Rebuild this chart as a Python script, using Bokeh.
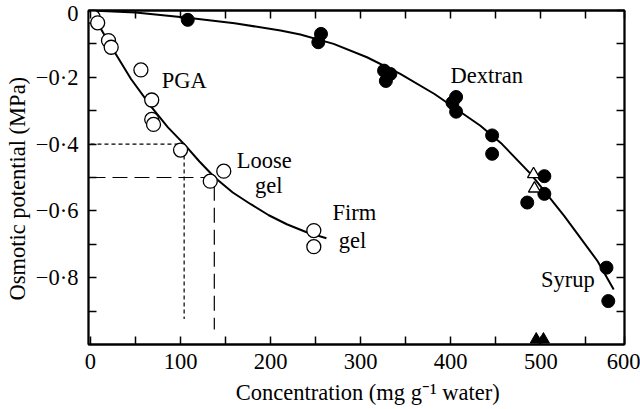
from bokeh.plotting import figure
from bokeh.models import Range1d, LinearAxis, FixedTicker
from bokeh.core.properties import value
from bokeh.embed import file_html
from bokeh.resources import INLINE

# ---- data ----
pga_x = [3, 8, 20, 23, 56, 68, 68, 70, 100, 133, 148, 248, 248]
pga_y = [-0.02, -0.037, -0.09, -0.11, -0.178, -0.268, -0.326, -0.341, -0.418, -0.511, -0.481, -0.659, -0.707]

dex_x = [0, 108, 256, 253, 326, 333, 328, 406, 402, 406, 446, 446, 485, 504, 504, 573, 575]
dex_y = [0, -0.028, -0.07, -0.095, -0.18, -0.19, -0.211, -0.259, -0.276, -0.303, -0.374, -0.429, -0.575, -0.496, -0.549, -0.77, -0.87]

open_tri_x = [492, 493]
open_tri_y = [-0.49, -0.533]

filled_tri_x = [495, 503]
filled_tri_y = [-0.985, -0.985]

pga_curve_x = [0, 10, 24, 45, 68, 86, 104, 121, 138, 158, 178, 198, 218, 240, 262]
pga_curve_y = [0, -0.048, -0.112, -0.205, -0.29, -0.35, -0.40, -0.452, -0.50, -0.545, -0.58, -0.613, -0.64, -0.664, -0.682]

dex_curve_x = [0, 50, 108, 160, 211, 233, 270, 307, 344, 382, 433, 457, 489, 526, 563, 581]
dex_curve_y = [0, -0.006, -0.022, -0.038, -0.060, -0.072, -0.100, -0.140, -0.190, -0.250, -0.345, -0.400, -0.490, -0.615, -0.750, -0.835]

# reference lines: concentration at -0.4 and -0.5 MPa
dot_x = [0, 104, 104]
dot_y = [-0.4, -0.4, -0.924]
dash_x = [0, 137.5, 137.5]
dash_y = [-0.5, -0.5, -0.955]

x_ticks = [0, 100, 200, 300, 400, 500, 593]
x_tick_labels = ["0", "100", "200", "300", "400", "500", "600"]
x_minor = [50, 150, 250, 350, 450, 550]
y_ticks = [0, -0.2, -0.4, -0.6, -0.8]
y_tick_labels = ["0", "\u22120\u00b72", "\u22120\u00b74", "\u22120\u00b76", "\u22120\u00b78"]
y_minor = [-0.1, -0.3, -0.5, -0.7, -0.9]

label_text = ["PGA", "Loose", "gel", "Firm", "gel", "Dextran", "Syrup"]
label_x = [104, 193, 198, 293, 291, 440, 530]
label_y = [-0.211, -0.45, -0.525, -0.605, -0.69, -0.195, -0.805]

NB = "\u00a0"
x_title = NB * 4 + "Concentration (mg g\u207b\u00b9 water)"
y_title = "Osmotic potential (MPa)" + NB * 4

FONT = "Liberation Serif"
FS = "22.5px"

p = figure(width=640, height=409, output_backend="svg", toolbar_location=None, tools="",
           x_range=Range1d(-2.2, 593), y_range=Range1d(-1.0, 0.0),
           min_border_left=88, min_border_right=16, min_border_top=10, min_border_bottom=65)
p.grid.visible = False
p.background_fill_color = "white"
p.border_fill_color = "white"
p.outline_line_color = "black"
p.outline_line_width = 1.8


def style_axis(ax, ticks, minor, show_labels):
    ax.ticker = FixedTicker(ticks=ticks, minor_ticks=minor)
    ax.axis_line_width = 1.8
    ax.axis_line_color = "black"
    ax.major_tick_in = 8
    ax.major_tick_out = 0
    ax.minor_tick_in = 8
    ax.minor_tick_out = 0
    ax.major_tick_line_width = 1.5
    ax.minor_tick_line_width = 1.5
    ax.major_label_text_font = FONT
    if show_labels:
        ax.major_label_text_font_size = FS
        ax.major_label_text_color = "black"
    else:
        ax.major_label_text_font_size = "0px"
        ax.major_label_text_color = None


xa = p.xaxis[0]
style_axis(xa, x_ticks, x_minor, True)
xa.major_label_overrides = dict(zip(x_ticks, x_tick_labels))
xa.major_label_standoff = 9
xa.axis_label = x_title
xa.axis_label_text_font = FONT
xa.axis_label_text_font_size = FS
xa.axis_label_text_font_style = "normal"
xa.axis_label_text_color = "black"
xa.axis_label_standoff = 8

ya = p.yaxis[0]
style_axis(ya, y_ticks, y_minor, True)
ya.major_label_overrides = dict(zip(y_ticks, y_tick_labels))
ya.major_label_standoff = 10
ya.axis_label = y_title
ya.axis_label_text_font = FONT
ya.axis_label_text_font_size = FS
ya.axis_label_text_font_style = "normal"
ya.axis_label_text_color = "black"
ya.axis_label_standoff = 3

top = LinearAxis()
style_axis(top, x_ticks, x_minor, False)
p.add_layout(top, "above")
right = LinearAxis()
style_axis(right, y_ticks, y_minor, False)
p.add_layout(right, "right")

# reference lines
p.line(dot_x, dot_y, line_color="black", line_width=1.2, line_dash="4 3")
p.line(dash_x, dash_y, line_color="black", line_width=1.2, line_dash="15 7")

# fitted curves
p.line(pga_curve_x, pga_curve_y, line_color="black", line_width=2)
p.line(dex_curve_x, dex_curve_y, line_color="black", line_width=2)

# markers
p.scatter(dex_x, dex_y, marker="circle", size=13, fill_color="black", line_color="black")
p.scatter(pga_x, pga_y, marker="circle", size=14, fill_color="white", line_color="black", line_width=1.3)
p.scatter(open_tri_x, open_tri_y, marker="triangle", size=12, fill_color="white", line_color="black", line_width=1.3)
p.scatter(filled_tri_x, filled_tri_y, marker="triangle", size=12, fill_color="black", line_color="black")

p.text(x=label_x, y=label_y, text=label_text, text_font=value(FONT), text_font_size=value(FS),
       text_align="center", text_baseline="middle", text_color="black")

open("out.html", "w").write(file_html(p, INLINE))
